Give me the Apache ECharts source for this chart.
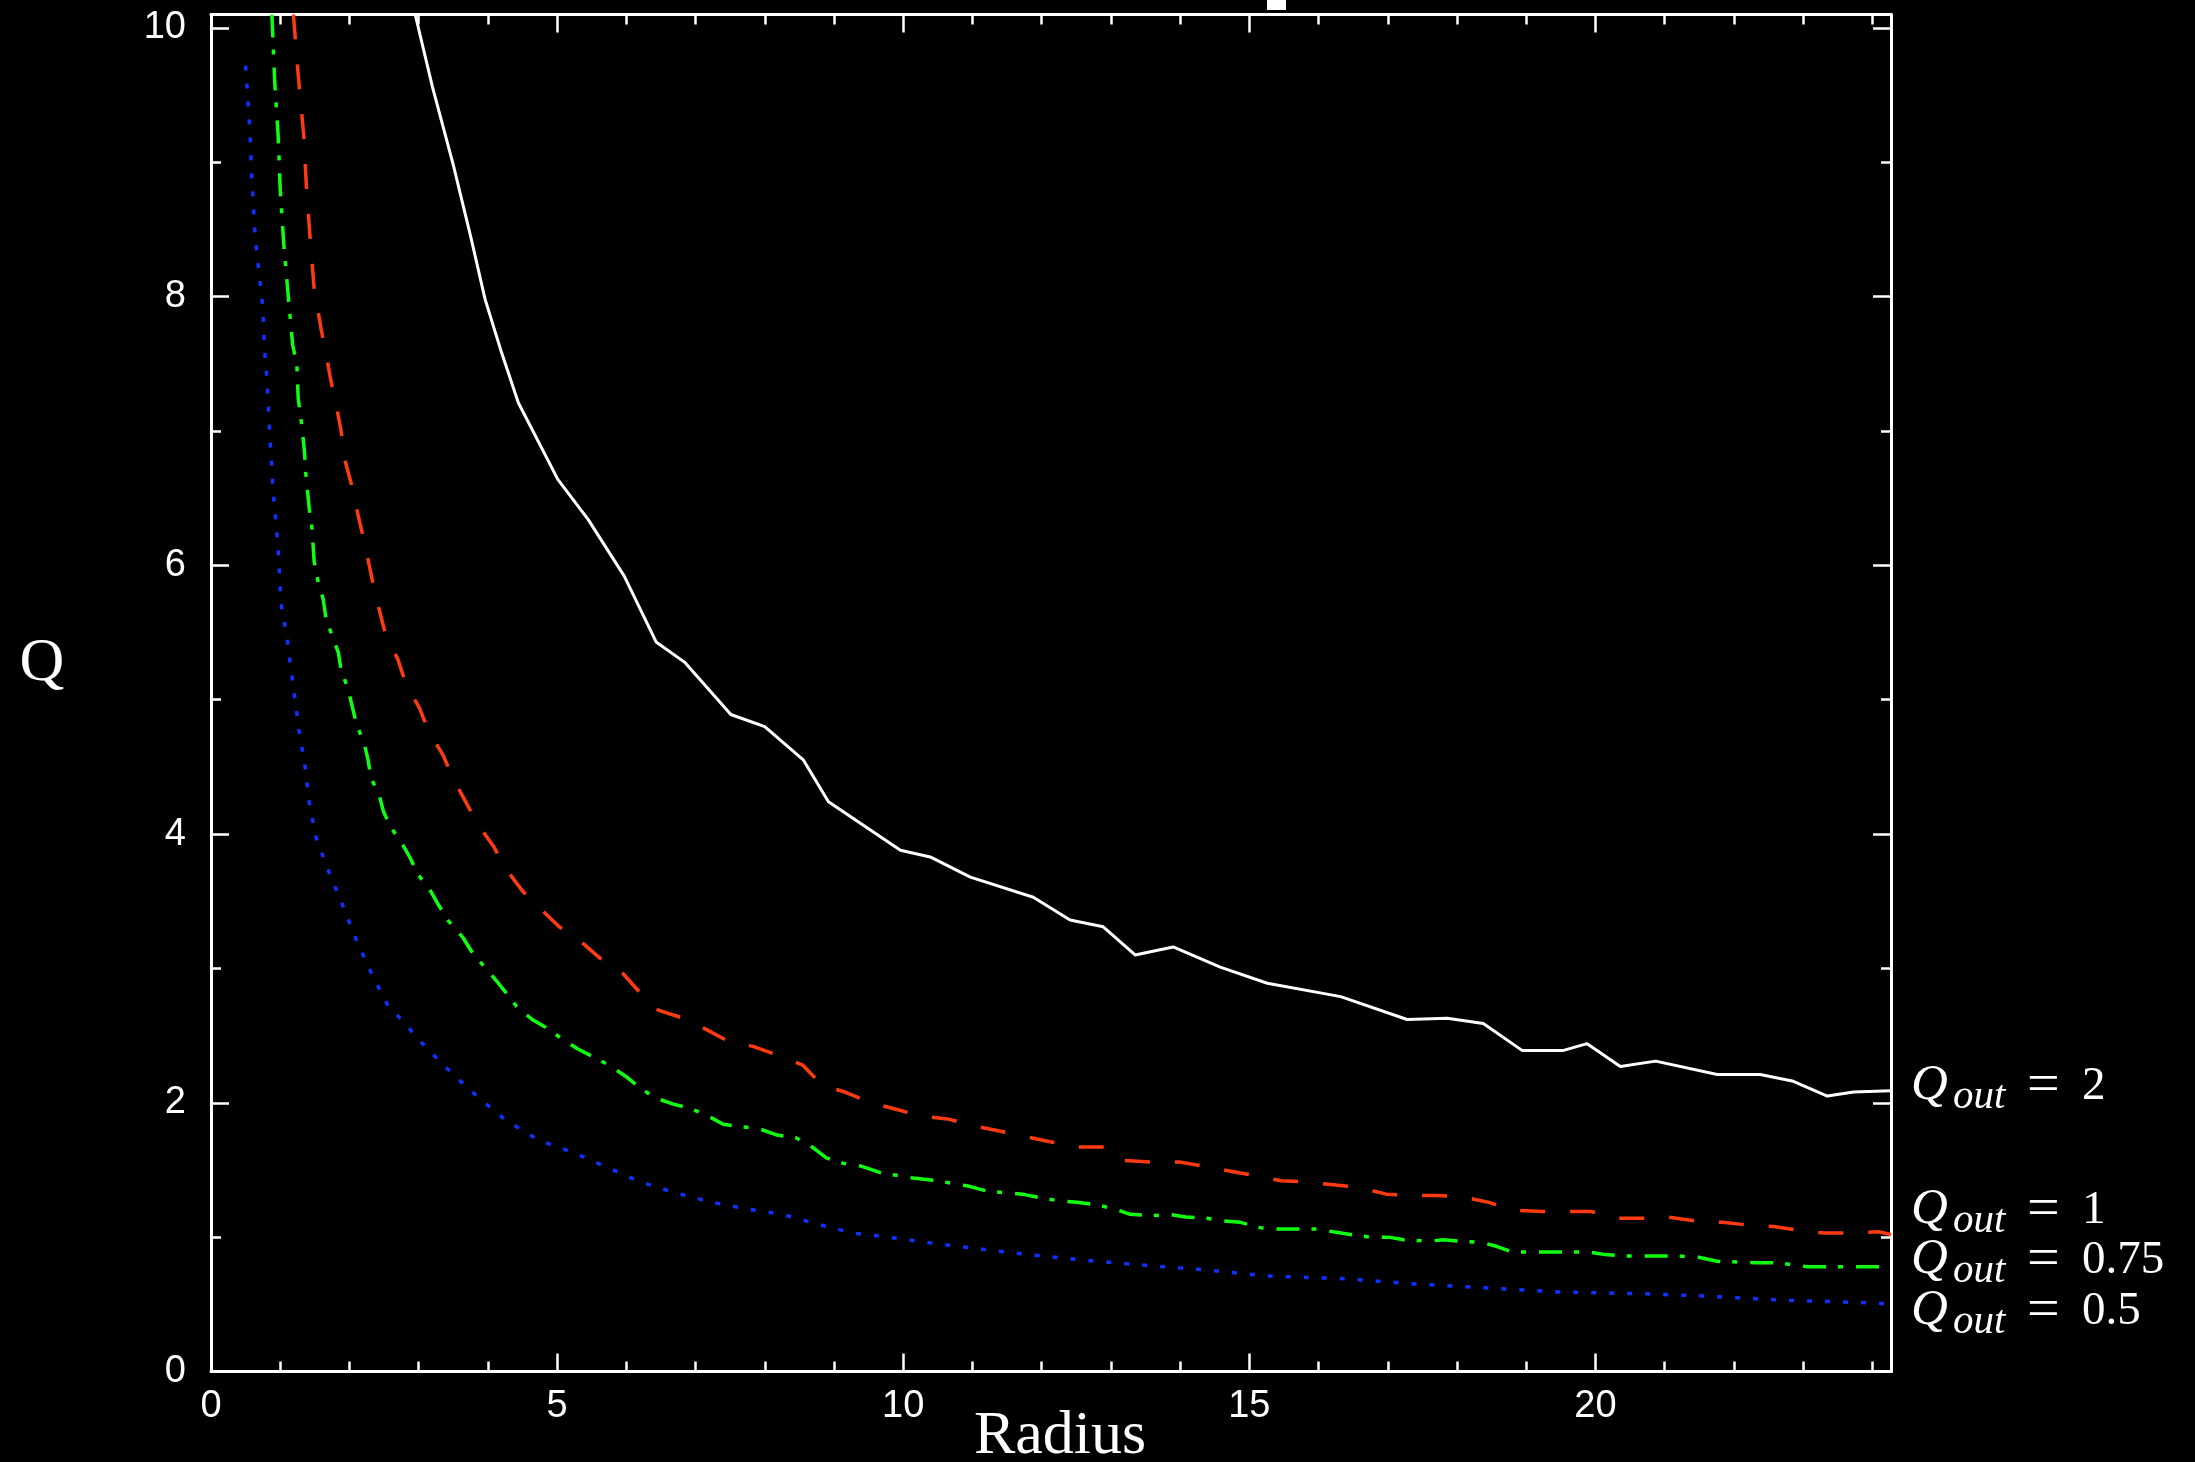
<!DOCTYPE html>
<html>
<head>
<meta charset="utf-8">
<style>
html,body{margin:0;padding:0;background:#000;}
#chart{width:2195px;height:1462px;}
</style>
<script src="https://cdn.jsdelivr.net/npm/echarts@6/dist/echarts.min.js"></script>
</head>
<body>
<div id="chart"></div>
<script>
// ---- data (Radius, Q) ----
const X_MAX = 24.27;
const Y_MAX = 10.1;

const q2Data = [[2.95,10.1],[3.2,9.56],[3.5,8.98],[3.75,8.45],[3.96,7.98],[4.2,7.58],[4.44,7.21],[5.01,6.64],[5.45,6.34],[5.97,5.92],[6.43,5.43],[6.84,5.28],[7.51,4.89],[8.0,4.8],[8.56,4.55],[8.92,4.24],[9.96,3.88],[10.39,3.83],[10.97,3.68],[11.88,3.53],[12.41,3.36],[12.89,3.31],[13.35,3.10],[13.90,3.16],[14.58,3.01],[15.26,2.89],[16.32,2.79],[17.28,2.62],[17.86,2.63],[18.38,2.59],[18.94,2.39],[19.54,2.39],[19.88,2.44],[20.36,2.27],[20.87,2.31],[21.76,2.21],[22.38,2.21],[22.86,2.16],[23.35,2.05],[23.73,2.08],[24.27,2.09]];

const q1Data = [[1.19,10.1],[1.26,9.65],[1.34,9.2],[1.38,8.8],[1.43,8.45],[1.49,8.06],[1.59,7.76],[1.66,7.58],[1.73,7.38],[1.81,7.19],[1.88,7.0],[1.92,6.81],[2.02,6.62],[2.1,6.43],[2.19,6.23],[2.27,6.04],[2.35,5.84],[2.43,5.67],[2.53,5.47],[2.7,5.30],[2.82,5.11],[3.01,4.94],[3.15,4.76],[3.35,4.59],[3.5,4.41],[3.68,4.24],[3.86,4.07],[4.08,3.91],[4.26,3.74],[4.51,3.57],[4.73,3.46],[5.03,3.31],[5.32,3.21],[5.61,3.08],[5.92,2.98],[6.18,2.83],[6.46,2.69],[6.82,2.63],[7.14,2.55],[7.5,2.45],[7.83,2.42],[8.21,2.35],[8.55,2.28],[8.83,2.13],[9.16,2.08],[9.54,2.0],[9.91,1.95],[10.27,1.9],[10.64,1.88],[11.01,1.83],[11.39,1.79],[11.75,1.75],[12.12,1.71],[12.53,1.67],[12.88,1.67],[13.19,1.57],[13.57,1.56],[13.99,1.56],[14.32,1.53],[14.73,1.49],[15.06,1.46],[15.46,1.42],[15.84,1.41],[16.21,1.39],[16.58,1.37],[16.98,1.32],[17.31,1.31],[17.72,1.31],[18.09,1.30],[18.45,1.26],[18.8,1.20],[19.23,1.19],[19.94,1.19],[20.32,1.14],[20.68,1.14],[21.05,1.15],[21.46,1.12],[21.84,1.11],[22.2,1.09],[22.57,1.08],[22.96,1.05],[23.31,1.03],[23.71,1.03],[24.09,1.04],[24.27,1.02]];

const q075Data = [[0.88,10.1],[0.92,9.6],[0.97,9.2],[1.0,8.8],[1.05,8.4],[1.12,7.98],[1.18,7.64],[1.24,7.5],[1.26,7.24],[1.30,7.09],[1.35,6.85],[1.37,6.68],[1.42,6.42],[1.46,6.27],[1.49,6.03],[1.55,5.87],[1.62,5.75],[1.66,5.61],[1.76,5.46],[1.84,5.35],[1.88,5.22],[1.98,5.08],[2.04,4.95],[2.10,4.82],[2.21,4.68],[2.27,4.55],[2.31,4.42],[2.43,4.29],[2.49,4.17],[2.60,4.05],[2.77,3.92],[2.88,3.82],[2.99,3.70],[3.18,3.57],[3.29,3.47],[3.42,3.36],[3.64,3.23],[3.76,3.13],[3.92,3.03],[4.12,2.91],[4.26,2.82],[4.41,2.72],[4.64,2.62],[4.84,2.56],[5.06,2.48],[5.30,2.40],[5.53,2.34],[5.75,2.28],[6.01,2.19],[6.18,2.12],[6.40,2.04],[6.68,1.99],[6.91,1.96],[7.15,1.91],[7.40,1.84],[7.67,1.82],[7.90,1.81],[8.18,1.76],[8.45,1.74],[8.66,1.68],[8.89,1.59],[9.13,1.55],[9.38,1.53],[9.67,1.48],[9.91,1.46],[10.14,1.44],[10.49,1.42],[10.71,1.40],[10.94,1.38],[11.23,1.34],[11.49,1.33],[11.72,1.32],[12.01,1.29],[12.25,1.27],[12.51,1.26],[12.80,1.24],[13.05,1.21],[13.28,1.17],[13.61,1.16],[13.83,1.17],[14.08,1.15],[14.39,1.14],[14.62,1.12],[14.87,1.11],[15.16,1.07],[15.42,1.06],[15.98,1.06],[16.21,1.04],[16.46,1.02],[16.75,1.00],[17.01,1.00],[17.23,0.98],[17.59,0.97],[17.80,0.98],[18.05,0.97],[18.37,0.96],[18.58,0.93],[18.80,0.89],[19.90,0.89],[20.14,0.87],[20.39,0.86],[21.18,0.86],[21.49,0.85],[21.76,0.82],[22.31,0.81],[22.54,0.81],[22.77,0.80],[23.06,0.78],[24.27,0.78]];

const q05Data = [[0.50,9.72],[0.56,9.25],[0.59,8.88],[0.64,8.43],[0.70,8.15],[0.75,7.91],[0.77,7.63],[0.81,7.37],[0.85,6.96],[0.90,6.54],[0.97,6.13],[1.01,5.72],[1.10,5.45],[1.17,5.17],[1.27,4.78],[1.36,4.50],[1.42,4.23],[1.52,3.97],[1.71,3.71],[1.91,3.46],[2.10,3.21],[2.33,2.95],[2.56,2.72],[2.75,2.62],[3.09,2.42],[3.48,2.22],[3.86,2.04],[4.26,1.87],[4.74,1.72],[5.23,1.63],[5.72,1.52],[6.21,1.41],[6.71,1.33],[7.23,1.26],[7.75,1.21],[8.25,1.17],[8.74,1.10],[9.28,1.03],[9.78,1.00],[10.5,0.95],[11.3,0.90],[12.0,0.86],[12.8,0.82],[13.5,0.79],[14.29,0.76],[15.30,0.71],[16.39,0.69],[17.44,0.65],[18.51,0.62],[19.57,0.59],[20.61,0.58],[21.66,0.56],[22.72,0.53],[24.07,0.51],[24.27,0.50]];

const seriesNames = ['Q_out = 2', 'Q_out = 1', 'Q_out = 0.75', 'Q_out = 0.5'];
const labelValues = ['2', '1', '0.75', '0.5'];
const xAxisTitle = 'Radius';
const yAxisTitle = 'Q';

// ---- chart ----
const chart = echarts.init(document.getElementById('chart'), null, {renderer: 'canvas'});

const WHITE = '#ffffff';
function valAxis(extra) {
  return Object.assign({
    type: 'value',
    splitLine: {show: false},
    axisLine: {show: true, onZero: false, lineStyle: {color: WHITE, width: 3}},
    axisLabel: {show: false},
    axisTick: {show: true, inside: true, length: 18, lineStyle: {color: WHITE, width: 2.5}}
  }, extra);
}
const tickFont = {color: WHITE, fontFamily: '"Liberation Sans", Arial, sans-serif', fontSize: 38};

const xAxes = [
  valAxis({position: 'bottom', min: 0, max: X_MAX, interval: 5,
    axisLabel: Object.assign({show: true, margin: 16, formatter: v => (Math.abs(v % 5) < 1e-9 ? String(v) : '')}, tickFont)}),
  valAxis({position: 'bottom', min: 0, max: X_MAX, interval: 1, axisLine: {show: false, onZero: false},
    axisTick: {show: true, inside: true, length: 10, lineStyle: {color: WHITE, width: 2.5}}}),
  valAxis({position: 'top', min: 0, max: X_MAX, interval: 5}),
  valAxis({position: 'top', min: 0, max: X_MAX, interval: 1, axisLine: {show: false, onZero: false},
    axisTick: {show: true, inside: true, length: 10, lineStyle: {color: WHITE, width: 2.5}}})
];
const yAxes = [
  valAxis({position: 'left', min: 0, max: Y_MAX, interval: 2,
    axisLabel: Object.assign({show: true, margin: 25, formatter: v => (Math.abs(v % 2) < 1e-9 ? String(v) : '')}, tickFont)}),
  valAxis({position: 'left', min: 0, max: Y_MAX, interval: 1, axisLine: {show: false, onZero: false},
    axisTick: {show: true, inside: true, length: 10, lineStyle: {color: WHITE, width: 2.5}}}),
  valAxis({position: 'right', min: 0, max: Y_MAX, interval: 2}),
  valAxis({position: 'right', min: 0, max: Y_MAX, interval: 1, axisLine: {show: false, onZero: false},
    axisTick: {show: true, inside: true, length: 10, lineStyle: {color: WHITE, width: 2.5}}})
];

const styles = [
  {color: '#ffffff', type: 'solid', width: 3},
  {color: '#ff3a10', type: [25, 25], width: 3.5},
  {color: '#10ff10', type: [23, 12, 5, 13], width: 3.5},
  {color: '#1030ff', type: [5, 13], width: 3.5}
];
const datasets = [q2Data, q1Data, q075Data, q05Data];

const series = datasets.map((d, i) => ({
  name: seriesNames[i],
  type: 'line',
  xAxisIndex: 0, yAxisIndex: 0,
  data: d,
  showSymbol: false, symbol: 'none',
  smooth: false, clip: true, silent: true,
  lineStyle: {color: styles[i].color, width: styles[i].width, type: styles[i].type, cap: 'butt', join: 'round'}
}));

// right-hand series labels
const baselines = [1103, 1227, 1277, 1328];
const graphics = [];
const serif = '"Liberation Serif", "DejaVu Serif", serif';
labelValues.forEach((val, i) => {
  const b = baselines[i];
  graphics.push({type: 'text', x: 1911, y: b - 17, silent: true,
    style: {text: 'Q', font: 'italic 51px ' + serif, fill: WHITE, align: 'left', verticalAlign: 'middle'}});
  graphics.push({type: 'text', x: 1953, y: b - 6, silent: true,
    style: {text: 'out', font: 'italic 41px ' + serif, fill: WHITE, align: 'left', verticalAlign: 'middle'}});
  graphics.push({type: 'text', x: 2027, y: b - 16, silent: true,
    style: {text: '=', font: '58px ' + serif, fill: WHITE, align: 'left', verticalAlign: 'middle'}});
  graphics.push({type: 'text', x: 2082, y: b - 16, silent: true,
    style: {text: val, font: '47px ' + serif, fill: WHITE, align: 'left', verticalAlign: 'middle'}});
});
graphics.push({type: 'text', x: 42, y: 664, silent: true,
  style: {text: yAxisTitle, font: '62px ' + serif, fill: WHITE, align: 'center', verticalAlign: 'middle'}});
graphics.push({type: 'text', x: 1060, y: 1437, silent: true,
  style: {text: xAxisTitle, font: '62px ' + serif, fill: WHITE, align: 'center', verticalAlign: 'middle'}});
// fragment of a cropped-off title at the very top
graphics.push({type: 'rect', shape: {x: 1267, y: 0, width: 19, height: 10}, style: {fill: WHITE}, silent: true});

chart.setOption({
  backgroundColor: '#000000',
  animation: false,
  grid: {left: 211, top: 14.5, width: 1680, height: 1357, containLabel: false},
  xAxis: xAxes,
  yAxis: yAxes,
  series: series,
  graphic: graphics
});
</script>
</body>
</html>
